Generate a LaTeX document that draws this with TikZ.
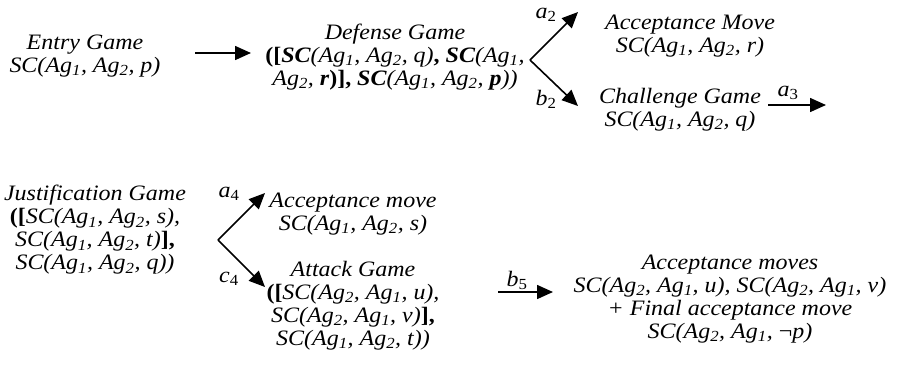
\documentclass[tikz,border=0pt]{standalone}
\usepackage{fontspec}
\setmainfont{Liberation Serif}[FakeStretch=1.09]
\usetikzlibrary{arrows.meta}

\newcommand\ag[1]{Ag\textsubscript{#1}}
\newcommand\bsc{\textbf{SC}}
\newcommand\bup[1]{\textbf{\upshape #1}}
\newcommand\lab[2]{\textit{#1}\textsubscript{\textup{#2}}}

\tikzset{
  game/.style={align=center, inner sep=0pt,
    font=\fontsize{22}{23}\selectfont\itshape},
  lbl/.style={inner sep=0pt, font=\fontsize{22}{23}\selectfont},
  arr/.style={line width=1.6pt, -{Triangle[length=16pt,width=14pt]}}
}

\begin{document}
\begin{tikzpicture}[x=1pt,y=-1pt]
\useasboundingbox (0,0) rectangle (906,376);

% first row
\node[game] (entry) at (85,56) {Entry Game\\SC(\ag1, \ag2, \textit{p})};
\node[game] (defense) at (395,57) {Defense Game\\
  \bup{([}\bsc(\ag1, \ag2, q)\bup{, }\bsc(\ag1,\\
  \ag2, \textbf{r}\bup{)], }\bsc(\ag1, \ag2, \textbf{p}))};
\node[game] (accmove) at (690,36) {Acceptance Move\\SC(\ag1, \ag2, r)};
\node[game] (challenge) at (680,110) {Challenge Game\\SC(\ag1, \ag2, q)};

\coordinate (e1) at (195,53);
\coordinate (e2) at (251,53);
\draw[arr] (e1) -- (e2);

\coordinate (s1) at (530,60);
\coordinate (t1) at (578,12);
\coordinate (t2) at (578,106);
\draw[arr] (s1) -- (t1);
\draw[arr] (s1) -- (t2);
\node[lbl] (la2) at (546,15) {\lab{a}{2}};
\node[lbl] (lb2) at (546,99) {\lab{b}{2}};

\coordinate (c1) at (768,105);
\coordinate (c2) at (826,105);
\draw[arr] (c1) -- (c2);
\node[lbl] (la3) at (788,93) {\lab{a}{3}};

% second row
\node[game] (justif) at (95,230) {Justification Game\\
  \bup{([}SC(\ag1, \ag2, s),\\
  SC(\ag1, \ag2, t)\bup{],}\\
  SC(\ag1, \ag2, q))};
\node[game] (accmove2) at (353,214) {Acceptance move\\SC(\ag1, \ag2, s)};
\node[game] (attack) at (353,306) {Attack Game\\
  \bup{([}SC(\ag2, \ag1, u),\\
  SC(\ag2, \ag1, v)\bup{],}\\
  SC(\ag1, \ag2, t))};
\node[game] (final) at (730,299) {Acceptance moves\\
  SC(\ag2, \ag1, u), SC(\ag2, \ag1, v)\\
  + Final acceptance move\\
  SC(\ag2, \ag1, \textup{¬}p)};

\coordinate (s2) at (218,240);
\coordinate (u1) at (265,193);
\coordinate (u2) at (265,287);
\draw[arr] (s2) -- (u1);
\draw[arr] (s2) -- (u2);
\node[lbl] (la4) at (229,194) {\lab{a}{4}};
\node[lbl] (lc4) at (229,279) {\lab{c}{4}};

\coordinate (d1) at (498,292);
\coordinate (d2) at (553,292);
\draw[arr] (d1) -- (d2);
\node[lbl] (lb5) at (517,280) {\lab{b}{5}};
\end{tikzpicture}
\end{document}
